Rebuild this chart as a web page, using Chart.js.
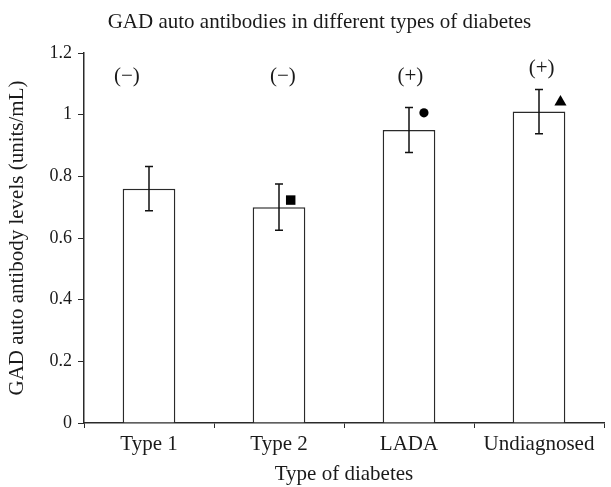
<!DOCTYPE html>
<html>
<head>
<meta charset="utf-8">
<script src="https://cdn.jsdelivr.net/npm/chart.js@4"></script>
<style>
  html, body { margin: 0; padding: 0; background: #fff; }
  #wrap { width: 611px; height: 487px; }
</style>
</head>
<body>
<div id="wrap"><canvas id="gadChart" width="611" height="487"></canvas></div>
<script>
// data
const categories = ['Type 1', 'Type 2', 'LADA', 'Undiagnosed'];
const meanLevels = [0.76, 0.70, 0.95, 1.01];
const errorSize = [0.072, 0.075, 0.073, 0.072];

// significance labels above each bar
const signText = ['(\u2212)', '(\u2212)', '(+)', '(+)'];
const signX = [-0.17, 1.03, 2.01, 3.02];
const signY = [1.125, 1.125, 1.125, 1.15];

// small markers beside bars
const markX = [1.09, 2.115, 3.165];
const markY = [0.723, 1.006, 1.041];
const markStyle = ['rect', 'circle', 'triangle'];
const markSize = [6.7, 4.6, 7];

const yTicks = [0, 0.2, 0.4, 0.6, 0.8, 1, 1.2];

const chartTitle = 'GAD auto antibodies in different types of diabetes';

const ink = '#1a1a1a';
const lineInk = '#2a2a2a';
const serif = "'Liberation Serif', 'DejaVu Serif', serif";

// title, error bars + sign text
const extrasPlugin = {
  id: 'extras',
  afterDatasetsDraw(chart) {
    const ctx = chart.ctx;
    const x = chart.scales.x;
    const y = chart.scales.y;
    const x2 = chart.scales.x2;

    ctx.save();
    ctx.strokeStyle = '#111';
    ctx.lineWidth = 1.5;
    meanLevels.forEach((v, i) => {
      const px = x.getPixelForValue(i);
      const top = y.getPixelForValue(v + errorSize[i]);
      const bot = y.getPixelForValue(v - errorSize[i]);
      ctx.beginPath();
      ctx.moveTo(px, top); ctx.lineTo(px, bot);
      ctx.moveTo(px - 4, top); ctx.lineTo(px + 4, top);
      ctx.moveTo(px - 4, bot); ctx.lineTo(px + 4, bot);
      ctx.stroke();
    });

    ctx.fillStyle = ink;
    ctx.font = '21px ' + serif;
    ctx.textAlign = 'center';
    ctx.textBaseline = 'middle';
    signText.forEach((t, i) => {
      ctx.fillText(t, x2.getPixelForValue(signX[i]), y.getPixelForValue(signY[i]));
    });

    // title sits a bit right of the canvas centre in the original
    ctx.fillText(chartTitle, chart.width / 2 + 14, 22);
    ctx.restore();
  }
};

const ctxGad = document.getElementById('gadChart').getContext('2d');

const gadChart = new Chart(ctxGad, {
  type: 'bar',
  data: {
    labels: categories,
    datasets: [{
      label: 'GAD',
      data: meanLevels,
      backgroundColor: '#fff',
      borderColor: lineInk,
      borderWidth: 1.5,
      grouped: false,
      barPercentage: 0.405,
      categoryPercentage: 1
    }, {
      type: 'scatter',
      label: 'marks',
      xAxisID: 'x2',
      data: markX.map((v, i) => ({ x: v, y: markY[i] })),
      pointStyle: markStyle,
      pointRadius: markSize,
      backgroundColor: '#000',
      borderColor: '#000',
      borderWidth: 0
    }]
  },
  options: {
    responsive: false,
    animation: false,
    layout: { padding: { left: 0, right: 1, top: 53, bottom: 0 } },
    plugins: {
      legend: { display: false },
      tooltip: { enabled: false },
      title: { display: false }
    },
    scales: {
      x: {
        offset: true,
        grid: { drawOnChartArea: false, drawTicks: true, tickLength: 5, color: lineInk, offset: true },
        border: { color: lineInk, width: 1.5 },
        ticks: { color: ink, font: { family: serif, size: 21 }, padding: 4 },
        title: {
          display: true,
          text: 'Type of diabetes',
          color: ink,
          font: { family: serif, size: 21 },
          padding: { top: 0, bottom: 0 }
        },
        afterFit(scale) { scale.height = 64; }
      },
      x2: {
        type: 'linear',
        min: -0.5,
        max: 3.5,
        offset: false,
        display: false
      },
      y: {
        min: 0,
        max: 1.2,
        afterBuildTicks(scale) { scale.ticks = yTicks.map(v => ({ value: v })); },
        grid: { drawOnChartArea: false, drawTicks: true, tickLength: 6, color: lineInk },
        border: { color: lineInk, width: 1.5 },
        ticks: {
          color: ink,
          font: { family: serif, size: 18 },
          padding: 6,
          callback: v => String(+v.toFixed(1))
        },
        title: {
          display: true,
          text: 'GAD auto antibody levels (units/mL)',
          color: ink,
          font: { family: serif, size: 21 },
          padding: { top: 5, bottom: 0 }
        },
        afterFit(scale) { scale.width = 84; }
      }
    }
  },
  plugins: [extrasPlugin]
});
</script>
</body>
</html>
